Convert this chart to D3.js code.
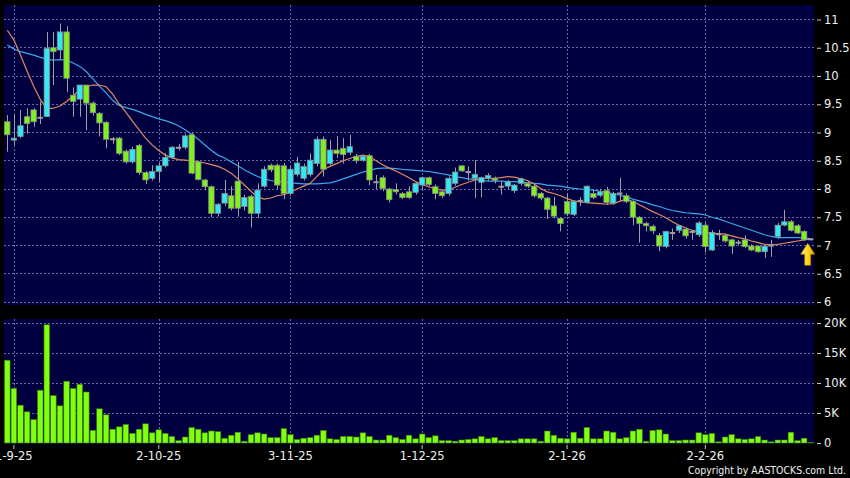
<!DOCTYPE html>
<html><head><meta charset="utf-8">
<script src="https://cdn.jsdelivr.net/npm/d3@7"></script>
<style>html,body{margin:0;padding:0;background:#000;}svg{display:block;}</style>
</head><body>
<svg id="c" width="850" height="478"></svg>
<script>
// ---- data ----
const open  = [9.19,8.87,8.93,9.28,9.40,9.26,9.28,10.50,10.46,10.78,9.66,9.59,9.84,9.52,9.34,9.18,8.88,8.90,8.67,8.48,
8.77,8.29,8.19,8.31,8.41,8.56,8.73,8.74,8.96,8.48,8.16,8.04,7.57,7.75,7.88,8.14,7.69,7.87,7.57,8.05,
8.42,8.42,8.41,7.92,8.26,8.19,8.26,8.45,8.88,8.45,8.69,8.72,8.65,8.58,8.51,8.59,8.12,8.20,8.00,7.99,
7.92,7.95,7.94,8.07,8.20,8.04,7.95,7.92,8.10,8.41,8.30,8.19,8.12,8.19,8.19,8.04,8.05,7.97,8.10,8.10,
8.05,7.92,7.84,7.70,7.48,7.78,7.55,7.79,7.76,7.92,7.89,7.97,7.75,7.92,7.88,7.78,7.50,7.39,7.34,7.18,
6.98,7.22,7.27,7.29,7.24,7.19,7.36,6.92,7.20,7.18,7.10,7.05,7.10,6.99,6.99,6.89,7.00,7.16,7.36,7.42,
7.35,7.25,7.11];
const high  = [9.31,9.31,9.40,9.43,9.43,9.55,10.78,10.78,10.93,10.88,9.80,9.84,9.84,9.55,9.36,9.20,8.92,8.92,8.70,8.75,
8.80,8.32,8.42,8.46,8.63,8.76,8.80,8.98,8.99,8.50,8.18,8.06,7.75,8.16,8.05,8.48,7.90,7.90,8.10,8.40,
8.45,8.45,8.46,8.40,8.57,8.45,8.63,8.93,8.93,8.87,8.94,8.90,8.96,8.62,8.60,8.62,8.25,8.24,8.02,8.10,
7.95,8.05,8.12,8.22,8.22,8.08,7.98,8.22,8.38,8.42,8.40,8.51,8.22,8.28,8.22,8.13,8.16,8.09,8.20,8.14,
8.08,7.95,7.86,7.86,7.50,7.92,7.80,7.86,8.06,7.98,8.00,8.04,7.95,8.20,7.92,7.80,7.52,7.42,7.37,7.22,
7.26,7.30,7.36,7.32,7.28,7.43,7.40,7.27,7.28,7.21,7.12,7.10,7.18,7.02,7.00,7.00,7.10,7.40,7.63,7.45,
7.38,7.27,7.12];
const low   = [8.66,8.78,8.90,8.98,9.10,9.15,9.28,9.84,10.30,9.72,9.28,9.28,9.04,9.30,8.93,8.72,8.80,8.60,8.45,8.45,
8.25,8.09,8.15,8.13,8.38,8.53,8.68,8.70,8.26,8.15,7.98,7.50,7.51,7.70,7.62,7.51,7.62,7.32,7.49,8.02,
8.30,8.00,7.82,7.88,8.22,8.15,8.22,8.40,8.22,8.42,8.55,8.45,8.60,8.45,8.48,8.07,8.00,7.96,7.76,7.90,
7.82,7.82,7.90,8.00,8.05,7.82,7.84,7.88,8.06,8.30,8.15,7.84,7.85,8.15,8.10,7.90,8.00,7.93,8.06,8.02,
7.85,7.80,7.47,7.48,7.25,7.52,7.52,7.70,7.74,7.82,7.86,7.72,7.72,7.78,7.75,7.36,7.05,7.25,7.20,6.90,
6.95,7.10,7.22,7.12,7.10,7.15,6.88,6.90,7.10,7.05,6.85,7.00,6.96,6.90,6.87,6.78,6.80,7.12,7.34,7.25,
7.20,7.08,7.09];
const close = [8.96,8.90,9.12,9.16,9.19,9.26,10.49,10.43,10.78,9.96,9.55,9.84,9.52,9.35,9.17,8.88,8.88,8.63,8.48,8.70,
8.29,8.16,8.31,8.41,8.56,8.74,8.73,8.94,8.28,8.17,8.04,7.57,7.73,7.92,7.66,7.66,7.85,7.57,7.98,8.35,
8.34,8.07,7.92,8.35,8.46,8.40,8.51,8.88,8.35,8.69,8.63,8.61,8.75,8.50,8.58,8.16,8.12,8.01,7.81,7.95,
7.85,7.85,8.10,8.20,8.08,7.92,7.88,8.19,8.30,8.32,8.30,8.26,8.20,8.24,8.16,8.04,8.13,8.07,8.18,8.05,
7.88,7.84,7.64,7.52,7.39,7.56,7.78,7.79,8.05,7.85,7.95,7.76,7.92,7.92,7.78,7.50,7.39,7.35,7.26,6.99,
7.25,7.22,7.35,7.17,7.24,7.40,6.98,7.23,7.20,7.08,6.99,7.05,6.98,6.92,6.89,6.99,7.00,7.36,7.42,7.27,
7.22,7.10,7.11];
const volume = [13800,9100,6300,5200,3900,8800,19700,7900,6200,10300,9100,9800,8500,2100,5700,4700,2300,2700,3100,1600,
2300,3200,1700,2200,1600,1100,400,1000,2600,2300,1700,2000,1900,800,1300,1800,300,1400,1700,1500,
900,900,2400,1400,600,800,900,1300,2100,700,600,1100,1100,1000,1700,1100,500,500,1300,900,
600,1300,700,1500,900,1200,400,400,300,500,600,700,1100,700,900,400,400,400,700,700,
700,300,2000,1300,800,700,1800,800,2600,700,700,2000,1800,700,900,2000,2300,300,2100,2200,
1500,400,400,500,500,1700,1400,1600,200,1000,1400,700,600,700,1100,500,200,500,500,1800,
400,800,100];
const maShort = [10.81,10.64,10.37,10.09,9.82,9.59,9.42,9.43,9.47,9.55,9.65,9.75,9.81,9.84,9.84,9.81,9.68,9.50,9.36,9.20,
9.05,8.90,8.78,8.68,8.60,8.55,8.52,8.51,8.50,8.48,8.46,8.43,8.40,8.35,8.28,8.18,8.07,7.96,7.86,7.82,
7.84,7.88,7.90,7.95,8.00,8.05,8.10,8.22,8.34,8.40,8.45,8.50,8.54,8.58,8.60,8.58,8.50,8.43,8.37,8.32,
8.26,8.20,8.13,8.08,8.04,8.00,7.98,7.98,8.03,8.08,8.12,8.16,8.19,8.19,8.19,8.20,8.22,8.21,8.18,8.15,
8.09,8.01,7.95,7.92,7.88,7.83,7.79,7.77,7.76,7.75,7.74,7.73,7.74,7.78,7.82,7.78,7.72,7.66,7.60,7.55,
7.49,7.42,7.36,7.31,7.27,7.24,7.23,7.22,7.21,7.20,7.17,7.14,7.12,7.08,7.05,7.02,7.01,7.02,7.04,7.06,
7.08,7.10,7.12];
const maLong = [10.55,10.48,10.43,10.40,10.37,10.33,10.30,10.28,10.29,10.28,10.23,10.17,10.08,9.95,9.82,9.70,9.57,9.48,9.44,9.41,
9.37,9.32,9.28,9.24,9.21,9.17,9.12,9.05,8.97,8.88,8.78,8.68,8.60,8.55,8.48,8.41,8.34,8.28,8.22,8.18,
8.15,8.13,8.13,8.11,8.10,8.09,8.09,8.09,8.10,8.11,8.14,8.18,8.22,8.26,8.30,8.33,8.36,8.37,8.37,8.36,
8.35,8.34,8.33,8.32,8.31,8.29,8.27,8.25,8.22,8.20,8.18,8.17,8.15,8.14,8.14,8.14,8.13,8.13,8.12,8.11,
8.10,8.09,8.07,8.06,8.05,8.03,8.01,8.00,7.99,7.98,7.96,7.94,7.92,7.89,7.86,7.82,7.79,7.76,7.72,7.69,
7.65,7.62,7.60,7.58,7.57,7.56,7.54,7.50,7.47,7.43,7.39,7.35,7.31,7.27,7.23,7.19,7.16,7.14,7.14,7.14,
7.14,7.13,7.12];
const priceTicks = [6,6.5,7,7.5,8,8.5,9,9.5,10,10.5,11];
const volTicks = [0,5000,10000,15000,20000];
const dateTickIndex = [1,23,43,63,85,106];
const dateTickLabel = ["1-9-25","2-10-25","3-11-25","1-12-25","2-1-26","2-2-26"];

// ---- layout ----
const W = 850, H = 478;
const plotL = 4, plotR = 814;
const pTop = 5, pBot = 305, vTop = 319, vBot = 444;
const svg = d3.select("#c");
const days = d3.range(open.length);

const x = d3.scaleBand().domain(days).range([plotL, plotR]);
const cx = i => x(i) + x.bandwidth() / 2;
const yP = d3.scaleLinear().domain([6, 11]).range([302, 19.5]);
const yV = d3.scaleLinear().domain([0, 20000]).range([443, 323]);

svg.append("rect").attr("width", W).attr("height", H).attr("fill", "#000");
svg.append("rect").attr("x", plotL).attr("y", pTop).attr("width", plotR - plotL).attr("height", pBot - pTop).attr("fill", "#000040");
svg.append("rect").attr("x", plotL).attr("y", vTop).attr("width", plotR - plotL).attr("height", vBot - vTop).attr("fill", "#000040");

const gridCol = "#6a6aa0";
// horizontal grids
svg.append("g").selectAll("line").data(priceTicks).join("line")
  .attr("x1", plotL).attr("x2", plotR).attr("y1", d => yP(d)).attr("y2", d => yP(d))
  .attr("stroke", gridCol).attr("stroke-width", 1).attr("stroke-dasharray", "2,2").attr("shape-rendering","crispEdges");
svg.append("g").selectAll("line").data(volTicks.filter(d => d > 0)).join("line")
  .attr("x1", plotL).attr("x2", plotR).attr("y1", d => yV(d)).attr("y2", d => yV(d))
  .attr("stroke", gridCol).attr("stroke-width", 1).attr("stroke-dasharray", "2,2").attr("shape-rendering","crispEdges");
// vertical grids
[[pTop, pBot], [vTop, vBot]].forEach(([a, b]) => {
  svg.append("g").selectAll("line").data(dateTickIndex).join("line")
    .attr("x1", d => Math.round(cx(d)) + 0.5).attr("x2", d => Math.round(cx(d)) + 0.5).attr("y1", a).attr("y2", b)
    .attr("stroke", gridCol).attr("stroke-width", 1).attr("stroke-dasharray", "2,2");
});

// moving averages
const lineGen = arr => d3.line().x((d, i) => cx(i)).y(d => yP(d))(arr);
svg.append("path").attr("d", lineGen(maLong)).attr("fill", "none").attr("stroke", "#3aa8e8").attr("stroke-width", 1.2);
svg.append("path").attr("d", lineGen(maShort)).attr("fill", "none").attr("stroke", "#e08a60").attr("stroke-width", 1.2);

// candles
const upCol = "#33e8f4", dnCol = "#80f020", flatCol = "#a0a0a0";
const bw = Math.max(3, x.bandwidth() * 0.82);
const cg = svg.append("g");
days.forEach(i => {
  const o = open[i], c = close[i];
  const col = c > o ? upCol : (c < o ? dnCol : flatCol);
  cg.append("line").attr("x1", Math.round(cx(i)) + 0.5).attr("x2", Math.round(cx(i)) + 0.5)
    .attr("y1", yP(high[i])).attr("y2", yP(low[i])).attr("stroke", "#a0a0a0").attr("stroke-width", 1);
  if (c === o) {
    cg.append("line").attr("x1", cx(i) - bw / 2).attr("x2", cx(i) + bw / 2)
      .attr("y1", yP(o)).attr("y2", yP(o)).attr("stroke", flatCol).attr("stroke-width", 2);
  } else {
    const top = yP(Math.max(o, c)), bot = yP(Math.min(o, c));
    cg.append("rect").attr("x", cx(i) - bw / 2).attr("y", top).attr("width", bw).attr("height", Math.max(2, bot - top))
      .attr("fill", col).attr("stroke", "#8a8a8a").attr("stroke-width", 0.8);
  }
});

// yellow arrow under last candle
const last = open.length - 1;
const ax = cx(last) - 3, ay = yP(close[last]) + 4;
const grad = svg.append("defs").append("linearGradient").attr("id", "ag").attr("x1", 0).attr("x2", 1);
grad.append("stop").attr("offset", "0%").attr("stop-color", "#fff2a0");
grad.append("stop").attr("offset", "60%").attr("stop-color", "#ffd000");
grad.append("stop").attr("offset", "100%").attr("stop-color", "#e0a000");
svg.append("path")
  .attr("d", `M${ax},${ay} l7,11 h-4 v11 h-6 v-11 h-4 z`)
  .attr("fill", "url(#ag)").attr("stroke", "#c08000").attr("stroke-width", 0.6);

// volume bars
svg.append("g").selectAll("rect").data(days).join("rect")
  .attr("x", i => x(i) + 0.5).attr("width", x.bandwidth() - 1)
  .attr("y", i => yV(volume[i])).attr("height", i => yV(0) - yV(volume[i]))
  .attr("fill", "#80ff10").attr("stroke", "#3c7a00").attr("stroke-width", 0.6);

// axes
const txtCol = "#f0f0f0";
const font = "DejaVu Sans, sans-serif";
const ayP = svg.append("g").attr("transform", `translate(${plotR + 3},0)`)
  .call(d3.axisRight(yP).tickValues(priceTicks).tickSize(4).tickPadding(3).tickFormat(d3.format("~g")));
const ayV = svg.append("g").attr("transform", `translate(${plotR + 3},0)`)
  .call(d3.axisRight(yV).tickValues(volTicks).tickSize(4).tickPadding(3).tickFormat(d => d === 0 ? "0" : (d / 1000) + "K"));
const axX = svg.append("g").attr("transform", `translate(0,${vBot + 1})`)
  .call(d3.axisBottom(x).tickValues(dateTickIndex).tickSize(4).tickPadding(3)
    .tickFormat(d => dateTickLabel[dateTickIndex.indexOf(d)]));
[ayP, ayV, axX].forEach(g => {
  g.select(".domain").remove();
  g.selectAll(".tick line").attr("stroke", "#c8c8c8");
  g.selectAll("text").attr("fill", txtCol).attr("font-family", font).attr("font-size", "11.5px");
});

svg.append("text").attr("x", 846).attr("y", 473.5).attr("text-anchor", "end")
  .attr("fill", txtCol).attr("font-family", font).attr("font-size", "11px")
  .attr("textLength", 158).attr("lengthAdjust", "spacingAndGlyphs")
  .text("Copyright by AASTOCKS.com Ltd.");
</script>
</body></html>
